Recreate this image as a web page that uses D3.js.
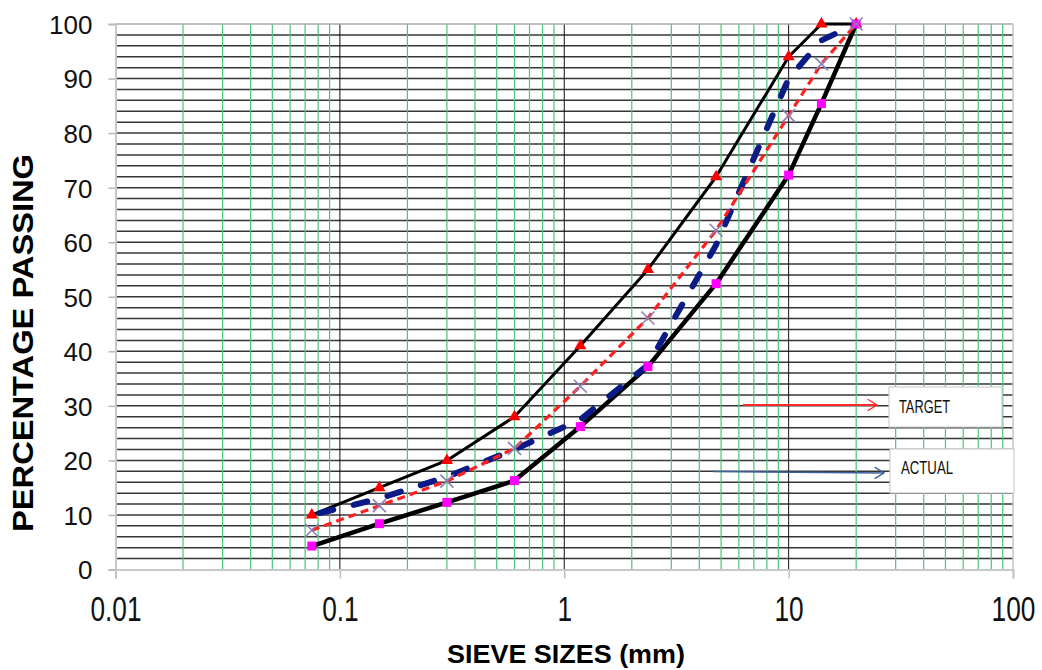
<!DOCTYPE html>
<html>
<head>
<meta charset="utf-8">
<script src="https://cdn.jsdelivr.net/npm/d3@7/dist/d3.min.js"></script>
<style>
  html, body { margin: 0; padding: 0; background: #fff; }
  svg { display: block; }
</style>
</head>
<body>
<svg id="chart" width="1042" height="670"></svg>
<script>
// Sieve analysis: grading envelope, target and actual curves
const sieveSizes     = [0.075, 0.15, 0.3, 0.6, 1.18, 2.36, 4.75, 10, 14, 20];
const upperLimit     = [10, 15, 20, 28, 41, 55, 72, 94, 100, 100];
const lowerLimit     = [4.3, 8.4, 12.3, 16.3, 26.2, 37.2, 52.4, 72.3, 85.4, 100];
const targetGrading  = [7.2, 11.7, 16.2, 22.2, 33.6, 46.1, 62.2, 83.2, 92.7, 100];
const actualGrading  = [10, 13, 17, 22, 27.5, 37.5, 59.5, 90, 97, 100];
const xTickValues    = [0.01, 0.1, 1, 10, 100];
const xTickLabels    = ["0.01", "0.1", "1", "10", "100"];
const yTickValues    = [0, 10, 20, 30, 40, 50, 60, 70, 80, 90, 100];
const legendLabels   = ["TARGET", "ACTUAL"];

const svg = d3.select("#chart");
const plot = { left: 115.5, right: 1013, top: 24, bottom: 569.5 };

const x = d3.scaleLog().domain([0.01, 100]).range([plot.left, plot.right]);
const y = d3.scaleLinear().domain([0, 100]).range([plot.bottom, plot.top]);

const FONT = "'Liberation Sans', Arial, Helvetica, sans-serif";

// ---- grid ----
const grid = svg.append("g");
// horizontal minor lines every 2 %
grid.selectAll("line.h")
  .data(d3.range(2, 100, 2))
  .join("line")
  .attr("x1", plot.left).attr("x2", plot.right)
  .attr("y1", d => y(d)).attr("y2", d => y(d))
  .attr("stroke", "#363636").attr("stroke-width", 1.5);

// vertical lines: green for 2..9 within each decade, black at decades
const minorX = [];
for (let e = -2; e < 2; e++) for (let m = 2; m <= 9; m++) minorX.push(m * Math.pow(10, e));
grid.selectAll("line.vm")
  .data(minorX)
  .join("line")
  .attr("x1", d => x(d)).attr("x2", d => x(d))
  .attr("y1", plot.top).attr("y2", plot.bottom)
  .attr("stroke", "#4cc479").attr("stroke-width", 1.2);
grid.selectAll("line.vM")
  .data([0.1, 1, 10])
  .join("line")
  .attr("x1", d => x(d)).attr("x2", d => x(d))
  .attr("y1", plot.top).attr("y2", plot.bottom)
  .attr("stroke", "#111").attr("stroke-width", 1);

// plot frame
grid.append("line").attr("x1", plot.left).attr("x2", plot.right)
  .attr("y1", plot.top).attr("y2", plot.top).attr("stroke", "#a8a8a8").attr("stroke-width", 1.5);
grid.append("line").attr("x1", plot.right).attr("x2", plot.right)
  .attr("y1", plot.top).attr("y2", plot.bottom).attr("stroke", "#c4c4c4").attr("stroke-width", 1.5);

// ---- axes ----
const yAxis = svg.append("g")
  .attr("transform", `translate(${plot.left},0)`)
  .call(d3.axisLeft(y).tickValues(yTickValues).tickSize(7).tickPadding(16).tickFormat(d3.format("d")));
yAxis.select(".domain").attr("stroke", "#c8c8c8").attr("stroke-width", 2);
yAxis.selectAll(".tick line").attr("stroke", "#b8b8b8").attr("stroke-width", 1.5);
yAxis.selectAll(".tick text")
  .attr("font-family", FONT).attr("font-size", 26).attr("fill", "#111")
  .attr("dy", "0.36em");

const xAxis = svg.append("g")
  .attr("transform", `translate(0,${plot.bottom})`)
  .call(d3.axisBottom(x).tickValues(xTickValues).tickSize(9)
    .tickFormat((d, i) => xTickLabels[i]));
xAxis.select(".domain").attr("stroke", "#c8c8c8").attr("stroke-width", 2);
xAxis.selectAll(".tick line").attr("stroke", "#c0c0c0").attr("stroke-width", 1.5);
// condensed, tall tick labels
xAxis.selectAll(".tick text")
  .attr("font-family", FONT).attr("font-size", 35).attr("fill", "#111")
  .attr("y", 0).attr("dy", 0)
  .attr("transform", "translate(0,51) scale(0.75,1)");

// axis titles
svg.append("text")
  .attr("transform", "translate(33,343) rotate(-90)")
  .attr("text-anchor", "middle")
  .attr("font-family", FONT).attr("font-weight", "bold").attr("font-size", 30)
  .attr("textLength", 378).attr("lengthAdjust", "spacingAndGlyphs")
  .attr("fill", "#000")
  .text("PERCENTAGE PASSING");

svg.append("text")
  .attr("x", 566).attr("y", 663)
  .attr("text-anchor", "middle")
  .attr("font-family", FONT).attr("font-weight", "bold").attr("font-size", 26)
  .attr("textLength", 238).attr("lengthAdjust", "spacingAndGlyphs")
  .attr("fill", "#000")
  .text("SIEVE SIZES (mm)");

// ---- series ----
const toPts = vals => sieveSizes.map((s, i) => [s, vals[i]]);
const line = d3.line().x(d => x(d[0])).y(d => y(d[1]));
const series = svg.append("g");

series.append("path").datum(toPts(upperLimit))
  .attr("d", line).attr("fill", "none")
  .attr("stroke", "#000").attr("stroke-width", 3).attr("stroke-linejoin", "round");

series.append("path").datum(toPts(lowerLimit))
  .attr("d", line).attr("fill", "none")
  .attr("stroke", "#000").attr("stroke-width", 4.5).attr("stroke-linejoin", "round");

series.append("path").datum(toPts(actualGrading))
  .attr("d", line).attr("fill", "none")
  .attr("stroke", "#0a1a86").attr("stroke-width", 6)
  .attr("stroke-linecap", "round").attr("stroke-dasharray", "14,21")
  .attr("stroke-dashoffset", -8);

series.append("path").datum(toPts(targetGrading))
  .attr("d", line).attr("fill", "none")
  .attr("stroke", "#ff1f1f").attr("stroke-width", 3.2)
  .attr("stroke-dasharray", "8,5");

// markers
const tri = d3.symbol().type(d3.symbolTriangle).size(64);
series.selectAll("path.up")
  .data(toPts(upperLimit))
  .join("path")
  .attr("d", tri)
  .attr("transform", d => `translate(${x(d[0])},${y(d[1])})`)
  .attr("fill", "#ff0000");

series.selectAll("rect.low")
  .data(toPts(lowerLimit))
  .join("rect")
  .attr("x", d => x(d[0]) - 4.5).attr("y", d => y(d[1]) - 4.5)
  .attr("width", 9).attr("height", 9)
  .attr("fill", "#ff00ff");

series.selectAll("path.tg")
  .data(toPts(targetGrading))
  .join("path")
  .attr("d", "M-6.5,-6.5L6.5,6.5M-6.5,6.5L6.5,-6.5")
  .attr("transform", d => `translate(${x(d[0])},${y(d[1])})`)
  .attr("fill", "none").attr("stroke", "#8c7fb4").attr("stroke-width", 1.6);

// ---- annotation boxes with arrows ----
const ann = svg.append("g");
function arrow(x1, y1, x2, y2, color, w) {
  ann.append("line").attr("x1", x1).attr("y1", y1).attr("x2", x2).attr("y2", y2)
    .attr("stroke", color).attr("stroke-width", w);
  const a = Math.atan2(y2 - y1, x2 - x1), L = 11, s = 0.55;
  ann.append("path")
    .attr("d", `M${x2 - L * Math.cos(a - s)},${y2 - L * Math.sin(a - s)}L${x2},${y2}L${x2 - L * Math.cos(a + s)},${y2 - L * Math.sin(a + s)}`)
    .attr("fill", "none").attr("stroke", color).attr("stroke-width", 1.4);
}
arrow(743, 405, 877, 405, "#ff2b2b", 2);
arrow(713, 471.5, 884, 473, "#3d5f9c", 1.6);

const boxes = [
  { x: 889, y: 387, w: 113, h: 40, tx: 899, ty: 413, tl: 51 },
  { x: 890, y: 449, w: 124, h: 44, tx: 901, ty: 474, tl: 52 }
];
boxes.forEach((b, i) => {
  ann.append("rect").attr("x", b.x).attr("y", b.y).attr("width", b.w).attr("height", b.h)
    .attr("fill", "#fff").attr("stroke", "#cfcfcf").attr("stroke-width", 1.2);
  ann.append("text").attr("x", b.tx).attr("y", b.ty)
    .attr("font-family", FONT).attr("font-size", 17.5).attr("fill", "#111")
    .attr("textLength", b.tl).attr("lengthAdjust", "spacingAndGlyphs")
    .text(legendLabels[i]);
});
</script>
</body>
</html>
